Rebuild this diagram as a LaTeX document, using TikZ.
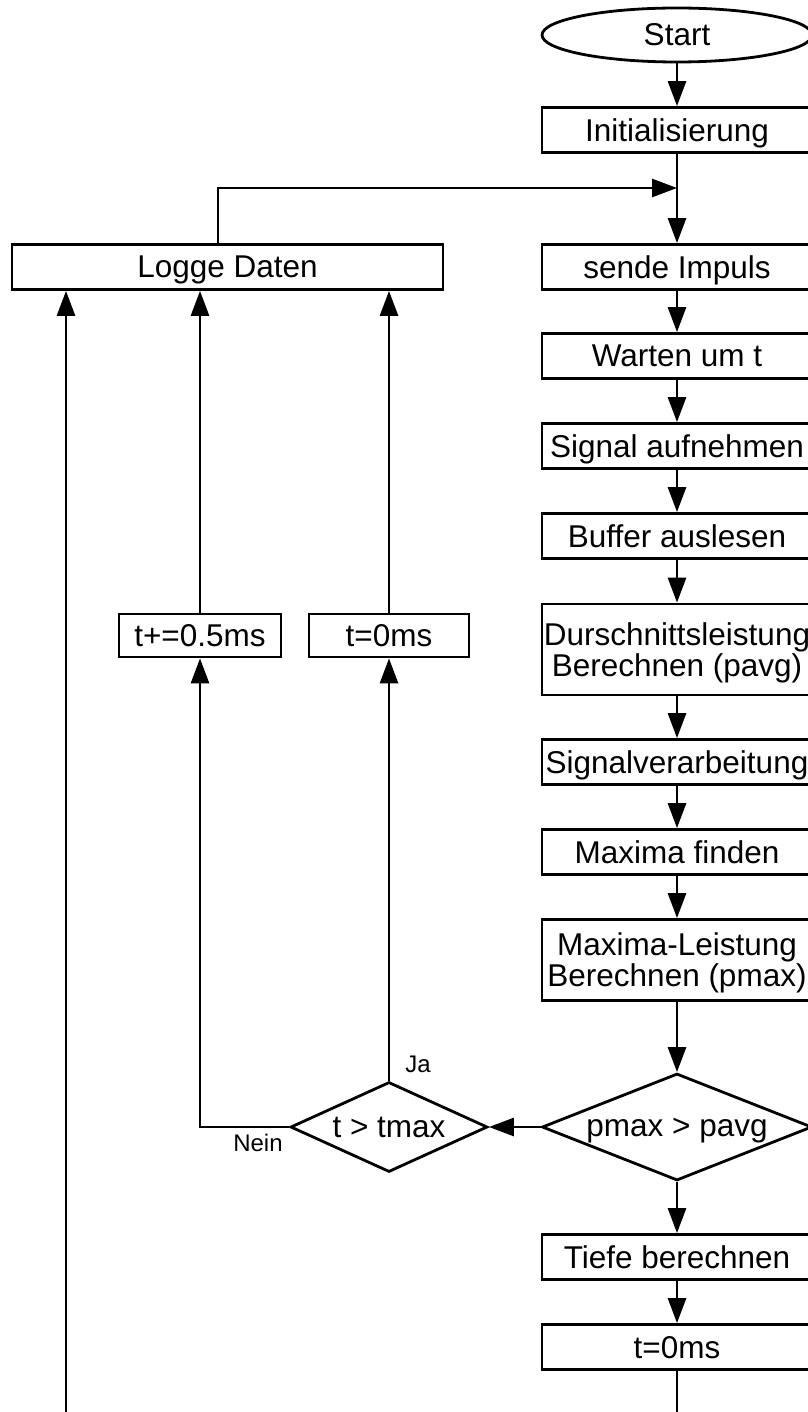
\documentclass[tikz,border=0pt]{standalone}
\usepackage{fontspec}
\setmainfont{Liberation Sans}
\usetikzlibrary{shapes.geometric,arrows.meta,calc}
\begin{document}
\begin{tikzpicture}[x=1pt,y=-1pt,
  every node/.style={font=\fontsize{31.5}{31}\selectfont},
  box/.style={draw, line width=2.8pt, minimum width=270pt, minimum height=45pt, inner sep=0pt, align=center, text depth=0pt},
  dia/.style={draw, diamond, line width=2.8pt, inner sep=0pt, aspect=2.5, text depth=0pt},
  lbl/.style={font=\fontsize{24}{24}\selectfont, inner sep=0pt},
  conn/.style={line width=2.8pt},
  arr/.style={line width=2.8pt, -{Triangle[length=25pt,width=18pt]}}]
\fill[white] (0,0) rectangle (807,1412);
\useasboundingbox (0,0) rectangle (807,1412);
% main column
\node[draw, ellipse, line width=2.8pt, minimum width=270pt, minimum height=54pt, inner sep=0pt] (start) at (677,35) {Start};
\node[box] (init) at (677,130) {Initialisierung};
\node[box] (sende) at (677,267) {sende Impuls};
\node[box] (warten) at (677,356) {Warten um t};
\node[box] (signal) at (677,446) {Signal aufnehmen};
\node[box] (buffer) at (677,536) {Buffer auslesen};
\node[box, minimum height=91pt] (durch) at (677,649.5) {Durschnittsleistung\\Berechnen (pavg)};
\node[box] (sigv) at (677,762) {Signalverarbeitung};
\node[box] (maxf) at (677,852) {Maxima finden};
\node[box, minimum height=81pt] (maxl) at (677,960) {Maxima-Leistung\\Berechnen (pmax)};
\node[dia, minimum width=270pt, minimum height=107pt] (pmax) at (677,1127) {pmax > pavg};
\node[box] (tiefe) at (677,1257) {Tiefe berechnen};
\node[box] (tnull) at (677,1347) {t=0ms};
% left side
\node[box, minimum width=431pt] (logge) at (227.5,267) {Logge Daten};
\node[box, minimum width=162pt, minimum height=43pt] (tplus) at (200,635.5) {t+=0.5ms};
\node[box, minimum width=160pt, minimum height=43pt] (tzero) at (389,635.5) {t=0ms};
\node[dia, minimum width=197pt, minimum height=90pt] (tmax) at (389,1127) {t > tmax};
\node[lbl] (ja) at (418,1064) {Ja};
\node[lbl] (nein) at (258,1143) {Nein};
% coordinates
\coordinate (join) at (677,188);
\coordinate (lgx) at (218,0);
\coordinate (lb) at (66,1412);
\coordinate (bb) at (677,1412);
% connectors
\draw[arr] (start) -- (init);
\draw[arr] (init) -- (sende);
\draw[arr] (logge.north -| lgx) |- (join);
\draw[arr] (sende) -- (warten);
\draw[arr] (warten) -- (signal);
\draw[arr] (signal) -- (buffer);
\draw[arr] (buffer) -- (durch);
\draw[arr] (durch) -- (sigv);
\draw[arr] (sigv) -- (maxf);
\draw[arr] (maxf) -- (maxl);
\draw[arr] (maxl) -- (pmax);
\draw[arr] (pmax) -- (tiefe);
\draw[arr] (tiefe) -- (tnull);
\draw[conn] (tnull) -- (bb);
\draw[arr] (pmax.west) -- (tmax.east);
\draw[arr] (tmax.north) -- (tzero.south);
\draw[arr] (tmax.west) -| (tplus.south);
\draw[arr] (tplus.north) -- (tplus.north |- logge.south);
\draw[arr] (tzero.north) -- (tzero.north |- logge.south);
\draw[arr] (lb) -- (lb |- logge.south);
\end{tikzpicture}
\end{document}
